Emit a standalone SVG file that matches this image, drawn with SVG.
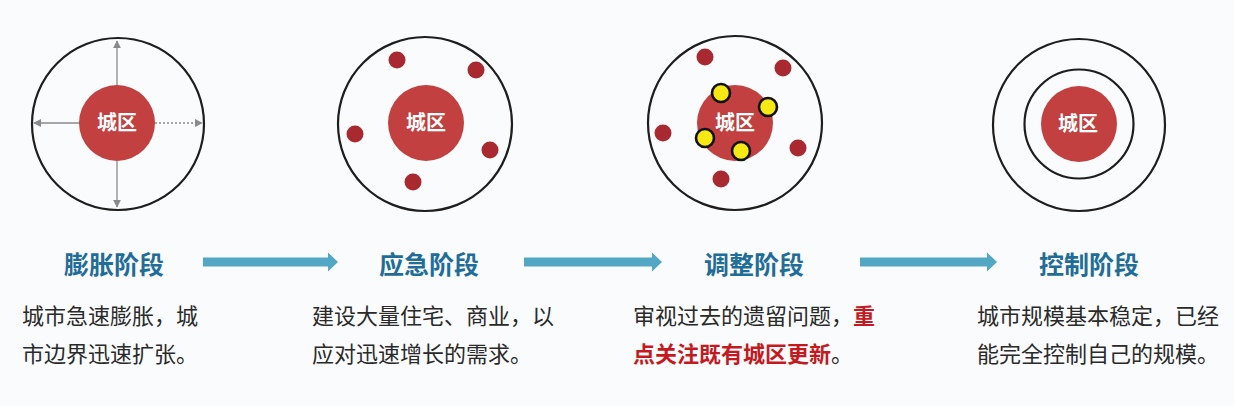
<svg xmlns="http://www.w3.org/2000/svg" width="1234" height="406" viewBox="0 0 1234 406">
<style>
.ring{fill:none;stroke:#1e1e1e;stroke-width:2.2}
.core{fill:#c2403f}
.corelbl{font-family:"Noto Sans CJK SC",sans-serif;font-weight:bold;font-size:20px;fill:#fff;text-anchor:middle}
.dot{fill:#a82a30}
.ydot{fill:#f6e813;stroke:#111;stroke-width:2.6}
.axis{stroke:#8a8a8a;stroke-width:1.3;fill:none}
.title{font-family:"Noto Sans CJK SC",sans-serif;font-weight:bold;font-size:25px;fill:#1f6d98;text-anchor:middle}
.body{font-family:"Noto Sans CJK SC",sans-serif;font-size:22px;fill:#2a2a2a}
.hl{fill:#c41a1f;font-weight:bold}
.flow{fill:#52a7c4}
</style>
<defs>
<marker id="tri" viewBox="0 0 10 10" refX="9" refY="5" markerWidth="8" markerHeight="8" markerUnits="userSpaceOnUse" orient="auto">
<path d="M0,0 L10,5 L0,10 z" fill="#8a8a8a"/>
</marker>
</defs>
<rect width="1234" height="406" fill="#fafbfc"/>

<g id="stage1">
<circle class="ring" cx="118" cy="124" r="86"/>
<line class="axis" x1="117" y1="85" x2="117" y2="41" marker-end="url(#tri)"/>
<line class="axis" x1="117" y1="161" x2="117" y2="207" marker-end="url(#tri)"/>
<line class="axis" x1="79" y1="123" x2="34" y2="123" marker-end="url(#tri)"/>
<line class="axis" x1="155" y1="123" x2="202" y2="123" stroke-dasharray="2 2" marker-end="url(#tri)"/>
<circle class="core" cx="117" cy="123" r="38"/>
<text class="corelbl" x="117" y="130">城区</text>
</g>

<g id="stage2">
<circle class="ring" cx="425" cy="124" r="87"/>
<circle class="core" cx="426" cy="123" r="38"/>
<text class="corelbl" x="426" y="130">城区</text>
<circle class="dot" cx="397" cy="60" r="8.5"/>
<circle class="dot" cx="476" cy="70" r="8.5"/>
<circle class="dot" cx="355" cy="134" r="8.5"/>
<circle class="dot" cx="490" cy="150" r="8.5"/>
<circle class="dot" cx="413" cy="182" r="8.5"/>
</g>

<g id="stage3">
<circle class="ring" cx="735" cy="123" r="87"/>
<circle class="core" cx="735" cy="123" r="38"/>
<text class="corelbl" x="735" y="130">城区</text>
<circle class="dot" cx="705" cy="57" r="8.5"/>
<circle class="dot" cx="783" cy="68" r="8.5"/>
<circle class="dot" cx="663" cy="133" r="8.5"/>
<circle class="dot" cx="798" cy="148" r="8.5"/>
<circle class="dot" cx="721" cy="179" r="8.5"/>
<circle class="ydot" cx="721" cy="93" r="9"/>
<circle class="ydot" cx="768" cy="107" r="9"/>
<circle class="ydot" cx="705" cy="138" r="9"/>
<circle class="ydot" cx="741" cy="151" r="9"/>
</g>

<g id="stage4">
<circle class="ring" cx="1079" cy="125" r="86"/>
<circle class="ring" cx="1079" cy="124" r="54.5"/>
<circle class="core" cx="1079" cy="124" r="38"/>
<text class="corelbl" x="1078" y="131">城区</text>
</g>

<g id="connectors">
<path class="flow" d="M203,257.5 H328 V252.5 L338,262 L328,271.5 V266.5 H203 Z"/>
<path class="flow" d="M524,257.5 H652 V252.5 L662,262 L652,271.5 V266.5 H524 Z"/>
<path class="flow" d="M860,257.5 H987 V252.5 L997,262 L987,271.5 V266.5 H860 Z"/>
</g>

<g id="label1">
<text class="title" x="114" y="274">膨胀阶段</text>
<text class="body" x="22" y="324">城市急速膨胀，城</text>
<text class="body" x="22" y="362">市边界迅速扩张。</text>
</g>
<g id="label2">
<text class="title" x="429" y="274">应急阶段</text>
<text class="body" x="312" y="324">建设大量住宅、商业，以</text>
<text class="body" x="312" y="362">应对迅速增长的需求。</text>
</g>
<g id="label3">
<text class="title" x="754" y="274">调整阶段</text>
<text class="body" x="633" y="324">审视过去的遗留问题，<tspan class="hl">重</tspan></text>
<text class="body" x="633" y="362"><tspan class="hl">点关注既有城区更新</tspan>。</text>
</g>
<g id="label4">
<text class="title" x="1089" y="274">控制阶段</text>
<text class="body" x="977" y="324">城市规模基本稳定，已经</text>
<text class="body" x="977" y="362">能完全控制自己的规模。</text>
</g>
</svg>
